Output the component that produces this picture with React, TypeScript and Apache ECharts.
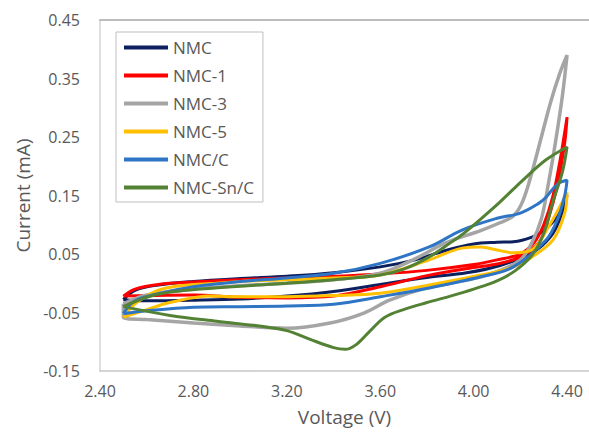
import React, { useEffect, useRef } from "react";
import * as echarts from "echarts";

const xTicks = [2.4, 2.8, 3.2, 3.6, 4.0, 4.4];
const yTicks = [-0.15, -0.05, 0.05, 0.15, 0.25, 0.35, 0.45];

const seriesNames = ["NMC", "NMC-1", "NMC-3", "NMC-5", "NMC/C", "NMC-Sn/C"];
const seriesColors = ["#0c1f5e", "#ff0000", "#a5a5a5", "#ffc000", "#2e75c6", "#548235"];

// Each loop: [voltage (V), current (mA)] going round the CV cycle
const nmc: number[][] = [
  [2.5, -0.028], [2.55, -0.012], [2.65, -0.003], [2.8, 0.003], [3.0, 0.008], [3.2, 0.012],
  [3.4, 0.018], [3.6, 0.028], [3.75, 0.04], [3.88, 0.056], [4.0, 0.067], [4.1, 0.07],
  [4.17, 0.071], [4.25, 0.079], [4.3, 0.09], [4.36, 0.115], [4.4, 0.15],
  [4.37, 0.11], [4.33, 0.08], [4.25, 0.052], [4.11, 0.03], [3.97, 0.018], [3.8, 0.01],
  [3.6, -0.002], [3.4, -0.014], [3.2, -0.022], [3.0, -0.027], [2.8, -0.029], [2.6, -0.03], [2.5, -0.028],
];
const nmc1: number[][] = [
  [2.5, -0.022], [2.55, -0.01], [2.65, -0.002], [2.8, 0.002], [3.0, 0.006], [3.2, 0.009],
  [3.4, 0.012], [3.6, 0.016], [3.8, 0.022], [4.0, 0.032], [4.1, 0.04], [4.2, 0.05],
  [4.26, 0.07], [4.3, 0.1], [4.34, 0.15], [4.37, 0.21], [4.4, 0.284],
  [4.39, 0.24], [4.36, 0.17], [4.32, 0.11], [4.28, 0.07], [4.2, 0.045], [4.1, 0.033], [4.0, 0.027],
  [3.8, 0.013], [3.6, -0.006], [3.4, -0.022], [3.2, -0.025], [3.0, -0.024], [2.8, -0.02], [2.6, -0.021], [2.5, -0.022],
];
const nmc3: number[][] = [
  [2.5, -0.035], [2.6, -0.02], [2.8, -0.01], [3.0, -0.004], [3.2, 0.0], [3.4, 0.006],
  [3.6, 0.017], [3.74, 0.04], [3.88, 0.069], [4.03, 0.09], [4.11, 0.103], [4.17, 0.115],
  [4.21, 0.14], [4.25, 0.19], [4.29, 0.25], [4.33, 0.31], [4.37, 0.36], [4.4, 0.39],
  [4.38, 0.32], [4.35, 0.24], [4.32, 0.17], [4.29, 0.11], [4.25, 0.07], [4.2, 0.04], [4.1, 0.02],
  [4.0, 0.008], [3.8, -0.008], [3.64, -0.029], [3.53, -0.051], [3.385, -0.068], [3.2, -0.077],
  [3.0, -0.073], [2.8, -0.068], [2.6, -0.062], [2.5, -0.058], [2.5, -0.035],
];
const nmc5: number[][] = [
  [2.5, -0.058], [2.55, -0.035], [2.65, -0.012], [2.75, -0.004], [2.9, 0.0], [3.0, 0.003],
  [3.2, 0.006], [3.4, 0.009], [3.6, 0.014], [3.81, 0.04], [3.95, 0.06], [4.03, 0.062],
  [4.1, 0.057], [4.17, 0.052], [4.25, 0.057], [4.32, 0.096], [4.4, 0.155],
  [4.39, 0.12], [4.34, 0.074], [4.25, 0.045], [4.17, 0.028], [4.03, 0.014], [3.81, -0.003],
  [3.6, -0.017], [3.4, -0.021], [3.2, -0.023], [3.0, -0.023], [2.87, -0.022], [2.7, -0.033],
  [2.6, -0.045], [2.5, -0.058],
];
const nmcC: number[][] = [
  [2.5, -0.052], [2.55, -0.03], [2.66, -0.017], [2.8, -0.006], [3.0, 0.003], [3.2, 0.009],
  [3.4, 0.017], [3.6, 0.034], [3.81, 0.062], [3.95, 0.091], [4.1, 0.111], [4.2, 0.12],
  [4.28, 0.137], [4.31, 0.147], [4.36, 0.17], [4.4, 0.176],
  [4.39, 0.15], [4.36, 0.11], [4.31, 0.074], [4.17, 0.028], [4.03, 0.011], [3.81, -0.008],
  [3.6, -0.023], [3.4, -0.036], [3.2, -0.039], [3.0, -0.04], [2.8, -0.041], [2.6, -0.047], [2.5, -0.052],
];
const nmcSnC: number[][] = [
  [2.5, -0.04], [2.6, -0.024], [2.7, -0.015], [2.83, -0.01], [3.0, -0.005], [3.2, 0.0],
  [3.4, 0.006], [3.6, 0.014], [3.7, 0.024], [3.81, 0.045], [3.9, 0.069], [3.96, 0.086],
  [4.11, 0.138], [4.21, 0.176], [4.31, 0.211], [4.4, 0.233],
  [4.38, 0.19], [4.34, 0.14], [4.3, 0.085], [4.25, 0.048], [4.18, 0.022], [4.1, 0.004],
  [4.0, -0.01], [3.9, -0.022], [3.8, -0.033], [3.7, -0.045], [3.62, -0.058], [3.56, -0.08],
  [3.5, -0.104], [3.45, -0.113], [3.4, -0.11], [3.3, -0.096], [3.2, -0.081], [3.1, -0.074],
  [2.9, -0.065], [2.7, -0.055], [2.5, -0.04],
];

const seriesData = [nmc, nmc1, nmc3, nmc5, nmcC, nmcSnC];

const FONT = "'Open Sans', sans-serif";

export default function App() {
  const ref = useRef<HTMLDivElement>(null);
  useEffect(() => {
    if (!ref.current) return;
    const chart = echarts.init(ref.current, undefined, { renderer: "svg" });
    chart.setOption({
      animation: false,
      backgroundColor: "#ffffff",
      grid: { left: 100, right: 0, top: 20, bottom: 61 },
      legend: {
        orient: "vertical",
        left: 116,
        top: 32,
        data: seriesNames,
        icon: "rect",
        itemWidth: 44,
        itemHeight: 4,
        itemGap: 11,
        padding: [7, 9, 6, 8],
        borderColor: "#bfbfbf",
        borderWidth: 1,
        backgroundColor: "#ffffff",
        textStyle: { fontFamily: FONT, fontSize: 17, color: "#595959" },
      },
      xAxis: [
        {
          type: "value",
          min: 2.4,
          max: 4.494,
          name: "Voltage (V)",
          nameLocation: "middle",
          nameGap: 36,
          nameTextStyle: { fontFamily: FONT, fontSize: 19, color: "#595959" },
          axisLine: { show: true, onZero: false, lineStyle: { color: "#c8c8c8", width: 1.5 } },
          axisTick: { show: false },
          splitLine: { show: false },
          axisLabel: {
            customValues: xTicks,
            formatter: (v: number) => v.toFixed(2),
            fontFamily: FONT,
            fontSize: 16,
            color: "#595959",
            margin: 12,
          },
        },
        {
          type: "value",
          position: "top",
          min: 2.4,
          max: 4.494,
          axisLine: { show: true, onZero: false, lineStyle: { color: "#bcbcbc", width: 2 } },
          axisTick: { show: false },
          axisLabel: { show: false },
          splitLine: { show: false },
        },
      ],
      yAxis: {
        type: "value",
        min: -0.15,
        max: 0.45,
        name: "Current (mA)",
        nameLocation: "middle",
        nameGap: 66,
        nameTextStyle: { fontFamily: FONT, fontSize: 19, color: "#595959" },
        axisLine: { show: true, onZero: false, lineStyle: { color: "#d4d4d4", width: 1.5 } },
        axisTick: { show: false },
        splitLine: { show: false },
        axisLabel: {
          customValues: yTicks,
          formatter: (v: number) => v.toFixed(2),
          fontFamily: FONT,
          fontSize: 16,
          color: "#595959",
          margin: 20,
        },
      },
      series: seriesNames.map((name, i) => ({
        name,
        type: "line",
        data: seriesData[i],
        showSymbol: false,
        smooth: 0.35,
        color: seriesColors[i],
        lineStyle: { width: i === 2 ? 3.5 : 3, color: seriesColors[i] },
      })),
    });
    return () => chart.dispose();
  }, []);
  return (
    <div
      ref={ref}
      style={{ position: "fixed", left: 0, top: 0, width: 589, height: 432, background: "#fff" }}
    />
  );
}
